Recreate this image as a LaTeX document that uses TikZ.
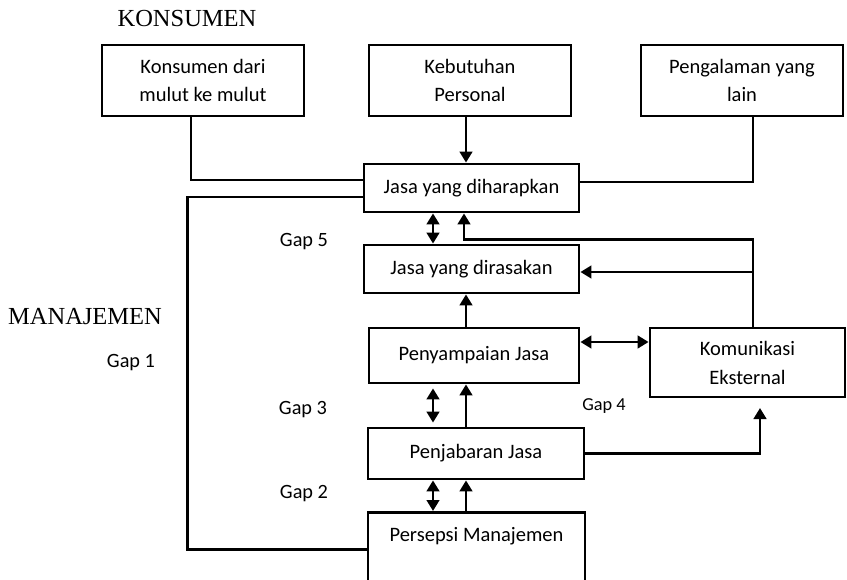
\documentclass[tikz,border=0pt]{standalone}
\usepackage{fontspec}
\setmainfont{Carlito}
\newfontfamily\headfont{Liberation Serif}
\usetikzlibrary{arrows.meta,calc}

\begin{document}
\begin{tikzpicture}[x=1pt,y=-1pt,
  box/.style={draw, line width=2.8pt, inner sep=0pt, align=center,
    font=\fontsize{20.5}{28}\selectfont},
  link/.style={line width=2.8pt},
  arr/.style={link, -{Triangle[length=11pt,width=12.5pt]}},
  darr/.style={link, {Triangle[length=11pt,width=12.5pt]}-{Triangle[length=11pt,width=12.5pt]}},
  gaplabel/.style={anchor=base, inner sep=0pt, font=\fontsize{20.3}{24}\selectfont},
  heading/.style={anchor=base, inner sep=0pt, font=\headfont\fontsize{24.5}{28}\selectfont}]

\useasboundingbox (0,0) rectangle (847,580);
\fill[white] (0,0) rectangle (847,580);

% headings
\node[heading] (konsumen) at (187,27) {KONSUMEN};
\node[heading] (manajemen) at (85,325) {MANAJEMEN};

% consumer side
\node[box, minimum width=202pt, minimum height=71pt] (mulut) at (203,80.5) {Konsumen dari\\mulut ke mulut};
\node[box, minimum width=202pt, minimum height=71pt] (kebutuhan) at (470,80.5) {Kebutuhan\\Personal};
\node[box, minimum width=202pt, minimum height=71pt] (pengalaman) at (742,80.5) {Pengalaman yang\\lain};
\node[box, minimum width=215pt, minimum height=48pt] (harap) at (471.5,188) {Jasa yang diharapkan};
\node[box, minimum width=215pt, minimum height=48pt] (rasa) at (471.5,269) {Jasa yang dirasakan};

% management side
\node[box, minimum width=210pt, minimum height=55pt] (sampai) at (474,355.5) {Penyampaian Jasa};
\node[box, minimum width=195pt, minimum height=69pt] (kom) at (747.5,362.5) {Komunikasi\\[1pt]Eksternal};
\node[box, minimum width=216pt, minimum height=51pt] (jabar) at (476,453.5) {Penjabaran Jasa};
\node[box, anchor=north, minimum width=217pt, text height=29pt, text depth=60pt] (persepsi) at (476.5,511) {Persepsi Manajemen};

% gap labels
\node[gaplabel] (gap1) at (131,368) {Gap 1};
\node[gaplabel] (gap5) at (304,247) {Gap 5};
\node[gaplabel] (gap3) at (303,414) {Gap 3};
\node[gaplabel] (gap2) at (304,498) {Gap 2};
\node[gaplabel, font=\fontsize{18.3}{22}\selectfont] (gap4) at (604,410) {Gap 4};

% helper positions
\coordinate (colA) at (433,0);
\coordinate (colB) at (466,0);
\coordinate (row342) at (0,342);
\coordinate (branch) at (753,272);
\coordinate (komin) at (760,408);

% connectors
\draw[link] ($(mulut.south)+(-12,0)$) |- ($(harap.west)+(0,-8)$);
\draw[link] ($(harap.west)+(0,9)$) -| ($(persepsi.west)+(-179,-7.5)$) -- ($(persepsi.west)+(0,-7.5)$);
\draw[link] ($(pengalaman.south)+(11,0)$) |- ($(harap.east)+(0,-6)$);
\draw[arr] (kebutuhan.south -| colB) -- (harap.north -| colB);
\draw[darr] (harap.south -| colA) -- (rasa.north -| colA);
\draw[arr] ($(kom.north)+(5.5,0)$) |- ($(harap.south)+(-7.5,26)$) -- ($(harap.south)+(-7.5,0)$);
\draw[arr] (branch) -- (rasa.east |- branch);
\draw[arr] (sampai.north -| colB) -- (rasa.south -| colB);
\draw[darr] (sampai.east |- row342) -- (kom.west |- row342);
\draw[darr, shorten <=4pt, shorten >=4pt] (sampai.south -| colA) -- (jabar.north -| colA);
\draw[arr] (jabar.north -| colB) -- (sampai.south -| colB);
\draw[arr] (jabar.east) -| (komin);
\draw[darr] (jabar.south -| colA) -- (persepsi.north -| colA);
\draw[arr] (persepsi.north -| colB) -- (jabar.south -| colB);
\end{tikzpicture}
\end{document}
